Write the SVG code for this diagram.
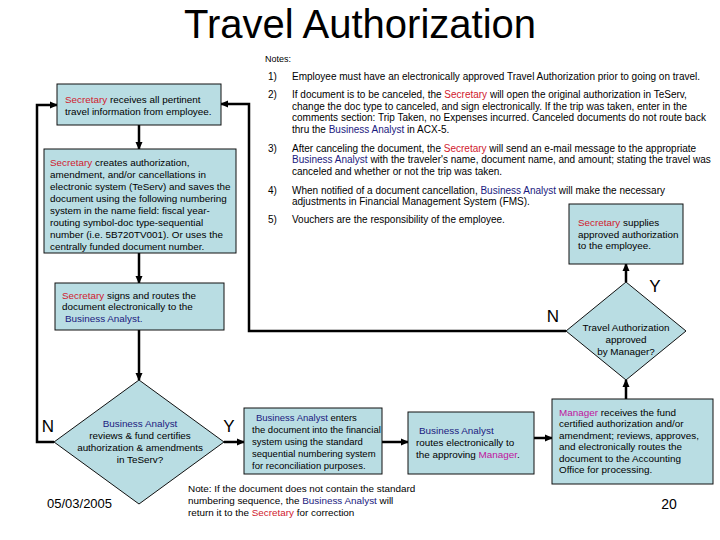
<svg xmlns="http://www.w3.org/2000/svg" width="720" height="540" viewBox="0 0 720 540">
<defs>
<marker id="ah" markerWidth="8" markerHeight="8" refX="7" refY="4" orient="auto" markerUnits="userSpaceOnUse">
<path d="M0,0.5 L8,4 L0,7.5 z" fill="#000"/>
</marker>
<style>
.box{fill:#B9DDE3;stroke:#111;stroke-width:1}
.t{font-family:"Liberation Sans",Arial,sans-serif;font-size:9.9px;fill:#000}
.n{font-size:10px}
.s{font-size:9.5px}
.c{text-anchor:middle}
.sec{fill:#D0202E}
.ba{fill:#1A1A80}
.mgr{fill:#C0139E}
.yn{font-family:"Liberation Sans",Arial,sans-serif;font-size:17px;fill:#000}
.con{fill:none;stroke:#000;stroke-width:2.5}
</style>
</defs>
<rect width="720" height="540" fill="#fff"/>
<text x="360" y="38" font-family="'Liberation Sans',Arial,sans-serif" font-size="40" text-anchor="middle">Travel Authorization</text>

<g id="notes" class="t n" xml:space="preserve">
<text x="265" y="62" font-size="9">Notes:</text>
<text x="268" y="80">1)</text>
<text x="292" y="80">Employee must have an electronically approved Travel Authorization prior to going on travel.</text>
<text x="268" y="98">2)</text>
<text x="292" y="98">If document is to be canceled, the <tspan class="sec">Secretary</tspan> will open the original authorization in TeServ,</text>
<text x="292" y="109.5">change the doc type to canceled, and sign electronically.  If the trip was taken, enter in the</text>
<text x="292" y="121">comments section:  Trip Taken, no Expenses incurred.  Canceled documents do not route back</text>
<text x="292" y="132.5">thru the  <tspan class="ba">Business Analyst</tspan> in ACX-5.</text>
<text x="268" y="151.5">3)</text>
<text x="292" y="151.5">After canceling the document, the <tspan class="sec">Secretary</tspan> will send an e-mail message to the appropriate</text>
<text x="292" y="163"><tspan class="ba">Business Analyst</tspan> with the traveler's name, document name, and amount; stating the travel was</text>
<text x="292" y="174.5">canceled and whether or not the trip was taken.</text>
<text x="268" y="193.5">4)</text>
<text x="292" y="193.5">When notified of a document cancellation,  <tspan class="ba">Business Analyst</tspan> will make the necessary</text>
<text x="292" y="205">adjustments in Financial Management System (FMS).</text>
<text x="268" y="222.5">5)</text>
<text x="292" y="222.5">Vouchers are the responsibility of the employee.</text>
</g>

<g id="connectors">
<path class="con" d="M139,125 V149" marker-end="url(#ah)"/>
<path class="con" d="M139,253 V283" marker-end="url(#ah)"/>
<path class="con" d="M139,330 V380" marker-end="url(#ah)"/>
<path class="con" d="M224,442 H244" marker-end="url(#ah)"/>
<path class="con" d="M382,442 H408" marker-end="url(#ah)"/>
<path class="con" d="M534,438 H552" marker-end="url(#ah)"/>
<path class="con" d="M626,399 V380" marker-end="url(#ah)"/>
<path class="con" d="M626,282 V264" marker-end="url(#ah)"/>
<path class="con" d="M54,442 H37 V105 H57" marker-end="url(#ah)"/>
<path class="con" d="M566,331 H249 V104 H221" marker-end="url(#ah)"/>
</g>

<g id="n1">
<rect class="box" x="57" y="84" width="164" height="41"/>
<text class="t" x="65" y="103"><tspan class="sec">Secretary</tspan> receives all pertinent</text>
<text class="t" x="65" y="115">travel information from employee.</text>
</g>

<g id="n2">
<rect class="box" x="44" y="149" width="192" height="104"/>
<g class="t" xml:space="preserve">
<text x="50" y="165.5"><tspan class="sec">Secretary</tspan> creates authorization,</text>
<text x="50" y="177.5">amendment, and/or cancellations in</text>
<text x="50" y="189.5">electronic system (TeServ) and saves the</text>
<text x="50" y="201.5">document using the following numbering</text>
<text x="50" y="213.5">system in the name field: fiscal year-</text>
<text x="50" y="225.5">routing symbol-doc type-sequential</text>
<text x="50" y="237.5">number (i.e. 5B720TV001).  Or uses the</text>
<text x="50" y="249.5">centrally funded document number.</text>
</g>
</g>

<g id="n3">
<rect class="box" x="55" y="283" width="169" height="47"/>
<g class="t">
<text x="62" y="298.5"><tspan class="sec">Secretary</tspan> signs and routes the</text>
<text x="62" y="310">document electronically to the</text>
<text x="65" y="321.5" class="ba">Business Analyst.</text>
</g>
</g>

<g id="d1">
<polygon class="box" points="139,380 224,442 139,504 54,442"/>
<g class="t c">
<text x="140" y="427" class="ba">Business Analyst</text>
<text x="140" y="439">reviews &amp; fund certifies</text>
<text x="140" y="451">authorization &amp; amendments</text>
<text x="140" y="463">in TeServ?</text>
</g>
<text class="yn" x="48" y="432" text-anchor="middle">N</text>
<text class="yn" x="229" y="432" text-anchor="middle">Y</text>
</g>

<g id="n4">
<rect class="box" x="244" y="408" width="138" height="66"/>
<g class="t s">
<text x="256" y="421"><tspan class="ba">Business Analyst</tspan> enters</text>
<text x="252" y="433">the document into the financial</text>
<text x="252" y="445">system using the standard</text>
<text x="252" y="457">sequential numbering system</text>
<text x="252" y="469">for reconciliation purposes.</text>
</g>
</g>

<g id="n5">
<rect class="box" x="408" y="412" width="126" height="62"/>
<g class="t">
<text x="419" y="434" class="ba">Business Analyst</text>
<text x="416" y="446">routes electronically to</text>
<text x="416" y="458">the approving <tspan class="mgr">Manager</tspan>.</text>
</g>
</g>

<g id="n6">
<rect class="box" x="552" y="399" width="161" height="85"/>
<g class="t">
<text x="559" y="415.5"><tspan class="mgr">Manager</tspan> receives the fund</text>
<text x="559" y="427">certified authorization and/or</text>
<text x="559" y="438.5">amendment; reviews, approves,</text>
<text x="559" y="450">and electronically routes the</text>
<text x="559" y="461.5">document to the Accounting</text>
<text x="559" y="473">Office for processing.</text>
</g>
</g>

<g id="d2">
<polygon class="box" points="626,282 686,331 626,380 566,331"/>
<g class="t c">
<text x="626" y="331">Travel Authorization</text>
<text x="626" y="343">approved</text>
<text x="626" y="355">by Manager?</text>
</g>
<text class="yn" x="655" y="292" text-anchor="middle">Y</text>
<text class="yn" x="553" y="322" text-anchor="middle">N</text>
</g>

<g id="n7">
<rect class="box" x="569" y="204" width="114" height="60"/>
<g class="t">
<text x="578" y="226"><tspan class="sec">Secretary</tspan> supplies</text>
<text x="578" y="237.5">approved authorization</text>
<text x="578" y="249">to the employee.</text>
</g>
</g>

<g id="footnote" class="t" xml:space="preserve">
<text x="188" y="492">Note:  If the document does not contain the standard</text>
<text x="188" y="504">numbering sequence, the  <tspan class="ba">Business Analyst</tspan> will</text>
<text x="188" y="516">return it to the <tspan class="sec">Secretary</tspan> for correction</text>
</g>

<text x="47" y="508" font-family="'Liberation Sans',Arial,sans-serif" font-size="13">05/03/2005</text>
<text x="669" y="509" font-family="'Liberation Sans',Arial,sans-serif" font-size="14" text-anchor="middle">20</text>
</svg>
